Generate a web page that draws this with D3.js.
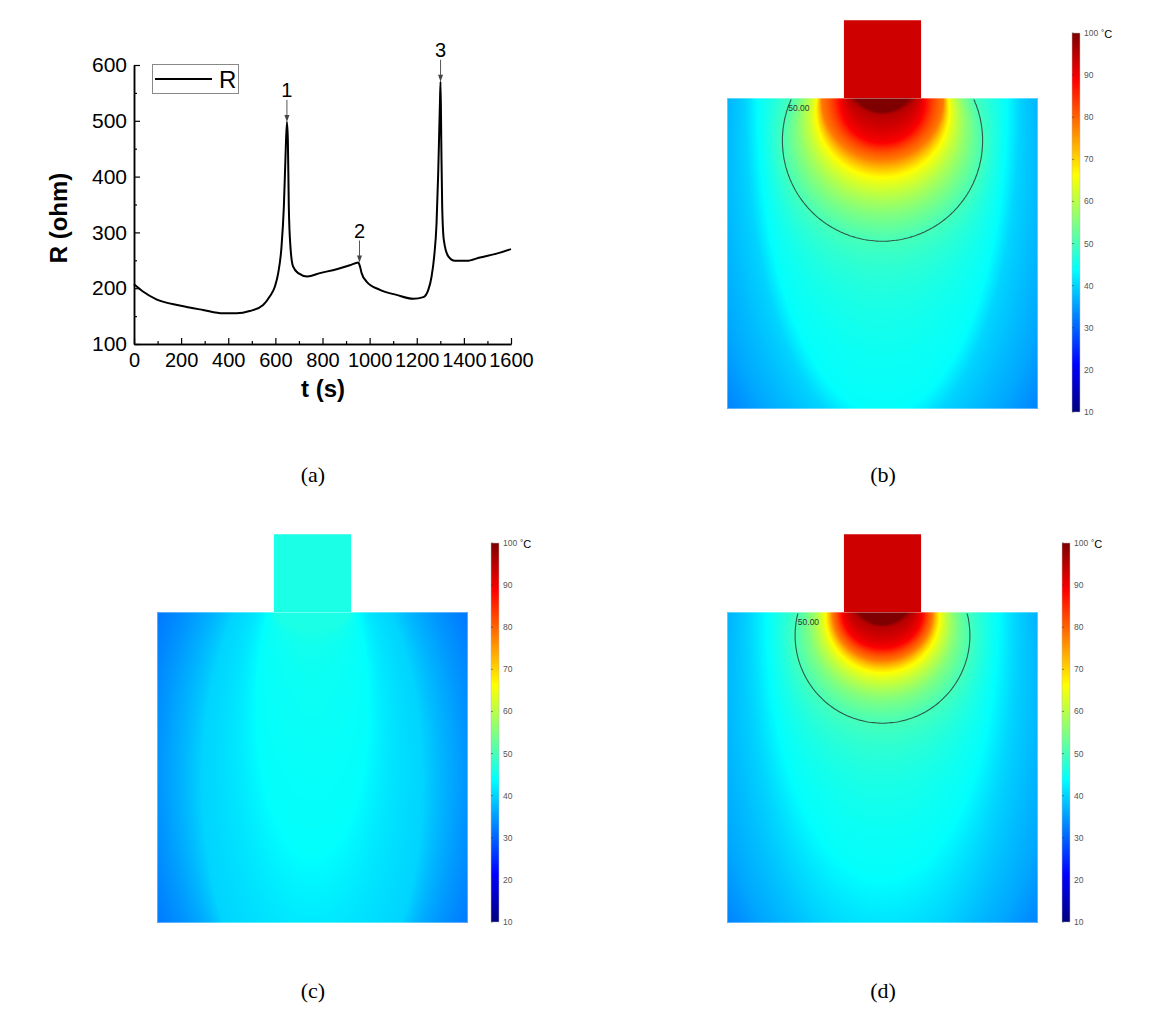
<!DOCTYPE html>
<html>
<head>
<meta charset="utf-8">
<script src="https://cdn.jsdelivr.net/npm/d3@7"></script>
<style>
  body { margin: 0; background: #fff; }
  svg { display: block; }
</style>
</head>
<body>
<div id="fig"></div>
<script>
// (a) resistance vs time
const timeS = [0, 38, 95, 194, 293, 378, 435, 491, 548, 576, 598, 612, 626, 636, 643, 649, 653, 657, 664, 675,
  697, 736, 789, 860, 916, 952, 959, 966, 987, 1044, 1114, 1185, 1228, 1249, 1263, 1274, 1284, 1291, 1298,
  1301, 1304, 1308, 1315, 1334, 1362, 1412, 1468, 1539, 1600];
const resOhm = [207, 194, 180, 169, 161, 155, 155, 159, 170, 185, 203, 227, 274, 346, 436, 498, 466, 346, 274, 239,
  227, 221, 227, 234, 241, 246, 239, 227, 212, 197, 188, 181, 184, 197, 221, 257, 316, 406, 525,
  570, 466, 346, 286, 257, 249, 249, 255, 262, 270];
const xTicks = [0, 200, 400, 600, 800, 1000, 1200, 1400, 1600];
const yTicks = [100, 200, 300, 400, 500, 600];
const peakNames = ['1', '2', '3'];
const peakTime = [649, 957, 1301];
const peakRes = [498, 246, 570];

// colour bar (°C) and jet colour map
const barTicks = [10, 20, 30, 40, 50, 60, 70, 80, 90, 100];
const jetTemps = [10, 21.25, 43.75, 66.25, 88.75, 100];
const jetColors = ['#00007f', '#0000ff', '#00ffff', '#ffff00', '#ff0000', '#7f0000'];

// isotherms: [temperature, centre depth, half width, half height]
// block is 10 units wide and 10 deep, x measured from the middle of the electrode
const isoB = [[100, -1.0, 1.2, 1.45], [95, -1.2, 1.5, 1.75], [89, 0.10, 1.35, 1.35], [78, 0.03, 1.96, 1.96],
  [66, 0.42, 2.15, 2.15], [55, 1.0, 2.77, 2.77], [50, 1.38, 3.22, 3.22], [44, 0, 3.99, 10.1],
  [40, 0.5, 4.4, 10.5], [36, 3, 5.6, 9.5], [32, 3, 7, 11]];
const isoC = [[46, -0.64, 1.45, 1.29], [44, 2.89, 1.77, 4.82], [40, 5.47, 3.54, 7.72],
  [36, 5.14, 4.5, 8.04], [32, 5.14, 5.8, 9.65]];
const isoD = [[100, -1.0, 1.1, 1.4], [95, -1.2, 1.4, 1.7], [89, 0, 1.29, 1.16], [78, 0.03, 1.61, 1.54],
  [66, 0.13, 1.84, 1.84], [55, 0.47, 2.36, 2.36], [50, 0.76, 2.81, 2.81], [44, 0, 3.7, 8.5],
  [40, 0.5, 4.3, 10.5], [36, 3, 5.6, 9.5], [32, 3, 7, 11]];
const stemTemps = [93, 46, 93];
const contourLevel = [50];
const panelNames = ['(a)', '(b)', '(c)', '(d)'];

const W = 1160, H = 1010;
const svg = d3.select('#fig').append('svg').attr('width', W).attr('height', H);
const sans = 'Arial, "Liberation Sans", sans-serif';

// ---------- (a) ----------
const x = d3.scaleLinear().domain([0, 1600]).range([134, 511]);
const y = d3.scaleLinear().domain([100, 600]).range([344, 65]);
const ga = svg.append('g');

ga.append('g').attr('transform', 'translate(0,344)')
  .call(d3.axisBottom(x).tickValues(d3.range(100, 1600, 200)).tickSize(-3).tickSizeOuter(0).tickFormat(''));
ga.append('g').attr('transform', 'translate(134,0)')
  .call(d3.axisLeft(y).tickValues(d3.range(150, 600, 100)).tickSize(-3).tickSizeOuter(0).tickFormat(''));
const xAxis = ga.append('g').attr('transform', 'translate(0,344)')
  .call(d3.axisBottom(x).tickValues(xTicks).tickSize(-6).tickSizeOuter(0).tickPadding(9).tickFormat(d3.format('d')));
const yAxis = ga.append('g').attr('transform', 'translate(134,0)')
  .call(d3.axisLeft(y).tickValues(yTicks).tickSize(-6).tickSizeOuter(0).tickPadding(7));
ga.selectAll('.domain').attr('stroke', '#000').attr('stroke-width', 1.5);
ga.selectAll('.tick line').attr('stroke', '#000').attr('stroke-width', 1.2);
xAxis.selectAll('text').attr('font-family', sans).attr('font-size', 20).attr('fill', '#000');
yAxis.selectAll('text').attr('font-family', sans).attr('font-size', 21).attr('fill', '#000');

ga.append('path')
  .datum(timeS.map((t, i) => [t, resOhm[i]]))
  .attr('fill', 'none').attr('stroke', '#000').attr('stroke-width', 2)
  .attr('d', d3.line().x(d => x(d[0])).y(d => y(d[1])).curve(d3.curveMonotoneX));

ga.append('text').attr('x', 323).attr('y', 397).attr('text-anchor', 'middle')
  .attr('font-family', sans).attr('font-size', 24).attr('font-weight', 'bold').text('t (s)');
ga.append('text').attr('transform', 'translate(67,218) rotate(-90)').attr('text-anchor', 'middle')
  .attr('font-family', sans).attr('font-size', 24).attr('font-weight', 'bold').text('R (ohm)');

// legend
ga.append('rect').attr('x', 152.5).attr('y', 64.5).attr('width', 86).attr('height', 29)
  .attr('fill', 'none').attr('stroke', '#888').attr('stroke-width', 1);
ga.append('line').attr('x1', 155).attr('x2', 212).attr('y1', 79).attr('y2', 79)
  .attr('stroke', '#000').attr('stroke-width', 2);
ga.append('text').attr('x', 219).attr('y', 88).attr('font-family', sans).attr('font-size', 24).text('R');

// peak arrows
const arrows = ga.selectAll('.peak').data(peakNames).enter().append('g').attr('class', 'peak');
arrows.append('line')
  .attr('x1', (d, i) => x(peakTime[i])).attr('x2', (d, i) => x(peakTime[i]))
  .attr('y1', (d, i) => y(peakRes[i]) - 22).attr('y2', (d, i) => y(peakRes[i]) - 4)
  .attr('stroke', '#555').attr('stroke-width', 1);
arrows.append('path')
  .attr('d', (d, i) => {
    const px = x(peakTime[i]), py = y(peakRes[i]);
    return `M${px - 2.5},${py - 7}L${px + 2.5},${py - 7}L${px},${py}Z`;
  })
  .attr('fill', '#444');
arrows.append('text')
  .attr('x', (d, i) => x(peakTime[i])).attr('y', (d, i) => y(peakRes[i]) - 25)
  .attr('text-anchor', 'middle').attr('font-family', sans).attr('font-size', 20).text(d => d);

// ---------- temperature maps ----------
const jet = d3.scaleLinear().domain(jetTemps).range(jetColors).clamp(true);

function tempAt(levels, u, v) {
  let prev = null;
  for (const L of levels) {
    const q = Math.hypot(u / L[2], (v - L[1]) / L[3]);
    if (q <= 1) {
      if (!prev) return L[0];
      return L[0] + (prev.t - L[0]) * (1 - q) / ((1 - q) + (prev.q - 1));
    }
    prev = { t: L[0], q };
  }
  return levels[levels.length - 1][0];
}

const defs = svg.append('defs');

function drawMap(id, levels, stemT, box) {
  const g = svg.append('g');
  const xs = d3.scaleLinear().domain([-5, 5]).range([box.x, box.x + box.w]);
  const ys = d3.scaleLinear().domain([0, 10]).range([box.y, box.y + box.h]);

  const cw = Math.round(box.w), ch = Math.round(box.h);
  const canvas = document.createElement('canvas');
  canvas.width = cw; canvas.height = ch;
  const ctx = canvas.getContext('2d');
  const img = ctx.createImageData(cw, ch);
  for (let j = 0; j < ch; j++) {
    for (let i = 0; i < cw; i++) {
      const t = tempAt(levels, xs.invert(box.x + i + 0.5), ys.invert(box.y + j + 0.5));
      const c = d3.rgb(jet(t));
      const k = (j * cw + i) * 4;
      img.data[k] = c.r; img.data[k + 1] = c.g; img.data[k + 2] = c.b; img.data[k + 3] = 255;
    }
  }
  ctx.putImageData(img, 0, 0);
  g.append('image').attr('href', canvas.toDataURL())
    .attr('x', box.x).attr('y', box.y).attr('width', box.w).attr('height', box.h)
    .attr('preserveAspectRatio', 'none');
  g.append('rect').attr('x', box.x + 0.5).attr('y', box.y + 0.5).attr('width', box.w - 1).attr('height', box.h - 1)
    .attr('fill', 'none').attr('stroke', '#fff').attr('stroke-opacity', 0.35);

  // electrode
  g.append('rect').attr('x', xs(-1.24)).attr('y', ys(-2.5))
    .attr('width', xs(1.24) - xs(-1.24)).attr('height', ys(0) - ys(-2.5))
    .attr('fill', jet(stemT));

  // 50 °C isotherm
  const n = Math.round(box.w / 2), m = Math.round(box.h / 2);
  const vals = new Array(n * m);
  for (let j = 0; j < m; j++)
    for (let i = 0; i < n; i++)
      vals[j * n + i] = tempAt(levels, -5 + 10 * (i + 0.5) / n, 10 * (j + 0.5) / m);
  const cont = d3.contours().size([n, m]).thresholds(contourLevel)(vals);
  defs.append('clipPath').attr('id', 'clip' + id).append('rect')
    .attr('x', box.x).attr('y', box.y + 1.5).attr('width', box.w).attr('height', box.h);
  g.append('g').attr('clip-path', `url(#clip${id})`)
    .selectAll('path').data(cont).enter().append('path')
    .attr('transform', `translate(${box.x},${box.y}) scale(${box.w / n},${box.h / m})`)
    .attr('d', d3.geoPath())
    .attr('fill', 'none').attr('stroke', '#2c5a4c').attr('stroke-width', 1.1)
    .attr('vector-effect', 'non-scaling-stroke');

  cont.forEach(c => {
    let best = null;
    c.coordinates.forEach(poly => poly.forEach(ring => ring.forEach(p => {
      const py = box.y + p[1] * box.h / m;
      if (Math.abs(py - (box.y + 14)) < 3 && (!best || p[0] < best)) best = p[0];
    })));
    if (best !== null) {
      g.append('text').attr('x', box.x + best * box.w / n + 2.5).attr('y', box.y + 13)
        .attr('font-family', sans).attr('font-size', 8.5).attr('fill', '#333')
        .text(c.value.toFixed(2));
    }
  });
}

function drawBar(id, bx, top, bottom) {
  const grad = defs.append('linearGradient').attr('id', 'grad' + id)
    .attr('x1', 0).attr('y1', 1).attr('x2', 0).attr('y2', 0);
  grad.selectAll('stop').data(jetTemps).enter().append('stop')
    .attr('offset', d => (d - 10) / 90).attr('stop-color', d => jet(d));
  const sc = d3.scaleLinear().domain([10, 100]).range([bottom, top]);
  const g = svg.append('g');
  g.append('rect').attr('x', bx).attr('y', top).attr('width', 8).attr('height', bottom - top)
    .attr('fill', `url(#grad${id})`).attr('stroke', '#bbb').attr('stroke-width', 0.5);
  g.selectAll('line').data(barTicks).enter().append('line')
    .attr('x1', bx).attr('x2', bx + 2).attr('y1', d => sc(d)).attr('y2', d => sc(d))
    .attr('stroke', '#333').attr('stroke-opacity', 0.5);
  g.selectAll('text.lab').data(barTicks).enter().append('text').attr('class', 'lab')
    .attr('x', bx + 12).attr('y', d => sc(d)).attr('dy', '0.35em')
    .attr('font-family', sans).attr('font-size', 8.5).attr('fill', '#555').text(d => d);
  const u = g.append('text').attr('x', bx + 29).attr('y', sc(100) + 5)
    .attr('font-family', sans).attr('fill', '#000');
  u.append('tspan').attr('font-size', 8).attr('dy', -3).text('°');
  u.append('tspan').attr('font-size', 11).attr('dy', 3).text('C');
}

drawMap('b', isoB, stemTemps[0], { x: 727, y: 98, w: 311, h: 311 });
drawMap('c', isoC, stemTemps[1], { x: 157, y: 612, w: 311, h: 311 });
drawMap('d', isoD, stemTemps[2], { x: 727, y: 612, w: 311, h: 311 });
drawBar('b', 1072, 33, 412);
drawBar('c', 491, 543, 922);
drawBar('d', 1062, 543, 922);

// panel captions
const capX = [313, 883, 313, 883], capY = [482, 482, 998, 998];
svg.selectAll('text.cap').data(panelNames).enter().append('text').attr('class', 'cap')
  .attr('x', (d, i) => capX[i]).attr('y', (d, i) => capY[i]).attr('text-anchor', 'middle')
  .attr('font-family', '"Liberation Serif", "Times New Roman", serif').attr('font-size', 22)
  .text(d => d);
</script>
</body>
</html>
